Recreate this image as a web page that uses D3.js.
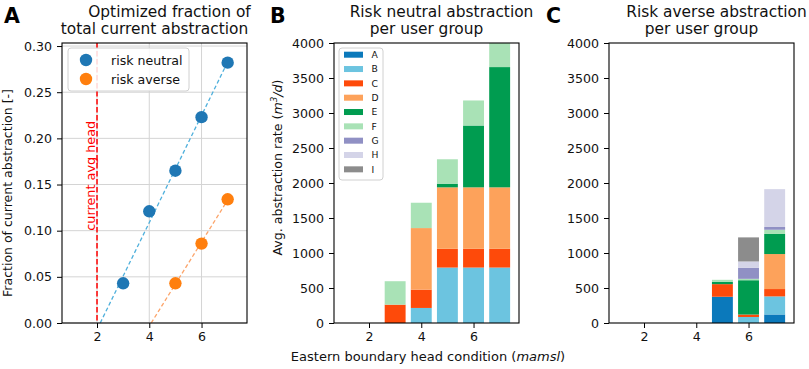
<!DOCTYPE html>
<html>
<head>
<meta charset="utf-8">
<script src="https://cdn.jsdelivr.net/npm/d3@7"></script>
<style>
  body { margin: 0; background: #fff; }
  svg { display: block; font-family: "DejaVu Sans", sans-serif; }
</style>
</head>
<body>
<svg id="chart" width="809" height="369"></svg>
<script>
// --- data ---
var neutralHeads = [3, 4, 5, 6, 7];
var neutralFraction = [0.043, 0.121, 0.165, 0.223, 0.282];
var averseHeads = [5, 6, 7];
var averseFraction = [0.043, 0.086, 0.134];
var currentHead = 2;

var groups = ["A", "B", "C", "D", "E", "F", "G", "H", "I"];
var groupColors = ["#0b79bb", "#6cc4e0", "#fe4a0a", "#fda25b", "#009c50", "#a9e2b6", "#9090c4", "#d4d4e8", "#8c8c8c"];
var barHeads = [2, 3, 4, 5, 6, 7];

// one row per user group, one value per head in barHeads (m3/d)
var neutralRates = [
  [0, 0, 0, 0, 0, 0],
  [0, 0, 215, 792, 792, 792],
  [0, 262, 262, 268, 268, 268],
  [0, 0, 879, 878, 878, 878],
  [0, 0, 0, 52, 883, 1718],
  [0, 335, 362, 349, 358, 355],
  [0, 0, 0, 0, 0, 0],
  [0, 0, 0, 0, 0, 0],
  [0, 0, 0, 0, 0, 0]
];
var averseRates = [
  [0, 0, 0, 375, 0, 122],
  [0, 0, 0, 0, 86, 258],
  [0, 0, 0, 180, 35, 105],
  [0, 0, 0, 0, 0, 500],
  [0, 0, 0, 32, 490, 287],
  [0, 0, 0, 30, 20, 60],
  [0, 0, 0, 0, 158, 40],
  [0, 0, 0, 0, 90, 540],
  [0, 0, 0, 0, 344, 0]
];
var xTicks = [2, 4, 6];
var fracTicks = [0, 0.05, 0.10, 0.15, 0.20, 0.25, 0.30];
var rateTicks = [0, 500, 1000, 1500, 2000, 2500, 3000, 3500, 4000];

// --- layout ---
var plotTop = 43, plotBottom = 323, pw = 185;
var svg = d3.select("#chart");
svg.append("rect").attr("width", 809).attr("height", 369).attr("fill", "#fff");

function makeX(left) {
  return d3.scaleLinear().domain([0.66, 7.74]).range([left, left + pw]);
}

function drawAxes(g, x, y, yTicks, fmt, left) {
  var xa = g.append("g")
    .attr("transform", "translate(0," + plotBottom + ")")
    .call(d3.axisBottom(x).tickValues(xTicks).tickSize(5).tickPadding(4).tickFormat(d3.format("d")));
  var ya = g.append("g")
    .attr("transform", "translate(" + left + ",0)")
    .call(d3.axisLeft(y).tickValues(yTicks).tickSize(5).tickPadding(5).tickFormat(fmt));
  [xa, ya].forEach(function(a) {
    a.select(".domain").remove();
    a.selectAll("text").attr("font-size", "12.6px").attr("fill", "#111")
      .attr("font-family", "DejaVu Sans");
    a.selectAll("line").attr("stroke", "#000").attr("stroke-width", 1);
  });
  g.append("rect")
    .attr("x", left).attr("y", plotTop).attr("width", pw).attr("height", plotBottom - plotTop)
    .attr("fill", "none").attr("stroke", "#000").attr("stroke-width", 1.1);
}

function title(left, l1, l2, letter, letterX) {
  var cx = left + pw / 2;
  svg.append("text").attr("x", cx + 15).attr("y", 16.5).attr("text-anchor", "middle")
    .attr("font-size", "15.4px").attr("fill", "#111").text(l1);
  svg.append("text").attr("x", cx).attr("y", 33.5).attr("text-anchor", "middle")
    .attr("font-size", "15.4px").attr("fill", "#111").text(l2);
  svg.append("text").attr("x", letterX).attr("y", 23)
    .attr("font-size", "20.5px").attr("font-weight", "bold").attr("fill", "#000").text(letter);
}

// --- panel A ---
var leftA = 62;
var xA = makeX(leftA);
var yA = d3.scaleLinear().domain([0, 0.3033]).range([plotBottom, plotTop]);
var gA = svg.append("g");

// grid
gA.selectAll(".gx").data(xTicks).enter().append("line")
  .attr("x1", function(d) { return xA(d); }).attr("x2", function(d) { return xA(d); })
  .attr("y1", plotTop).attr("y2", plotBottom).attr("stroke", "#d4d4d4").attr("stroke-width", 1);
gA.selectAll(".gy").data(fracTicks).enter().append("line")
  .attr("x1", leftA).attr("x2", leftA + pw)
  .attr("y1", function(d) { return yA(d); }).attr("y2", function(d) { return yA(d); })
  .attr("stroke", "#d4d4d4").attr("stroke-width", 1);

// least squares fit line, drawn from the zero crossing to the last point
function fitLine(xs, ys) {
  var mx = d3.mean(xs), my = d3.mean(ys);
  var sxy = d3.sum(xs, function(v, i) { return (v - mx) * (ys[i] - my); });
  var sxx = d3.sum(xs, function(v) { return (v - mx) * (v - mx); });
  var slope = sxy / sxx, icept = my - slope * mx;
  var x0 = -icept / slope, x1 = d3.max(xs);
  return [[x0, 0], [x1, icept + slope * x1]];
}
var line = d3.line().x(function(d) { return xA(d[0]); }).y(function(d) { return yA(d[1]); });

gA.append("line")
  .attr("x1", xA(currentHead)).attr("x2", xA(currentHead))
  .attr("y1", plotTop).attr("y2", plotBottom)
  .attr("stroke", "#ff0000").attr("stroke-width", 1.5).attr("stroke-dasharray", "5.5,2.5");
gA.append("text")
  .attr("transform", "translate(" + (xA(currentHead) - 2) + "," + yA(0.10) + ") rotate(-90)")
  .attr("font-size", "12.8px").attr("fill", "#ff0000").text("current avg head");

gA.append("path").datum(fitLine(neutralHeads, neutralFraction)).attr("d", line)
  .attr("fill", "none").attr("stroke", "#4fb0dc").attr("stroke-width", 1.3).attr("stroke-dasharray", "4,2.5");
gA.append("path").datum(fitLine(averseHeads, averseFraction)).attr("d", line)
  .attr("fill", "none").attr("stroke", "#fca46a").attr("stroke-width", 1.3).attr("stroke-dasharray", "4,2.5");

gA.selectAll(".pn").data(neutralHeads).enter().append("circle")
  .attr("cx", function(d) { return xA(d); })
  .attr("cy", function(d, i) { return yA(neutralFraction[i]); })
  .attr("r", 6.2).attr("fill", "#1f77b4");
gA.selectAll(".pa").data(averseHeads).enter().append("circle")
  .attr("cx", function(d) { return xA(d); })
  .attr("cy", function(d, i) { return yA(averseFraction[i]); })
  .attr("r", 6.2).attr("fill", "#ff7f0e");

drawAxes(gA, xA, yA, fracTicks, d3.format(".2f"), leftA);

// legend A
var legA = gA.append("g");
legA.append("rect").attr("x", 68).attr("y", 48).attr("width", 121).attr("height", 43).attr("rx", 3)
  .attr("fill", "#fff").attr("fill-opacity", 0.85).attr("stroke", "#d0d0d0");
[["risk neutral", "#1f77b4"], ["risk averse", "#ff7f0e"]].forEach(function(e, i) {
  var cy = 60 + i * 19;
  legA.append("circle").attr("cx", 86).attr("cy", cy).attr("r", 6.2).attr("fill", e[1]);
  legA.append("text").attr("x", 111).attr("y", cy + 4.5).attr("font-size", "12.6px").attr("fill", "#111").text(e[0]);
});

svg.append("text")
  .attr("transform", "translate(12,193) rotate(-90)").attr("text-anchor", "middle")
  .attr("font-size", "12.5px").attr("fill", "#111").text("Fraction of current abstraction [-]");
title(leftA, "Optimized fraction of", "total current abstraction", "A", 4);

// --- stacked bar panels ---
function barPanel(left, rates, id) {
  var x = makeX(left);
  var y = d3.scaleLinear().domain([0, 4000]).range([plotBottom, plotTop]);
  var g = svg.append("g");
  g.append("clipPath").attr("id", id).append("rect")
    .attr("x", left).attr("y", plotTop).attr("width", pw).attr("height", plotBottom - plotTop);
  var rows = barHeads.map(function(h, j) {
    var r = { head: h };
    groups.forEach(function(gr, k) { r[gr] = rates[k][j]; });
    return r;
  });
  var series = d3.stack().keys(groups)(rows);
  var bw = x(0.8) - x(0);
  g.append("g").attr("clip-path", "url(#" + id + ")")
    .selectAll("g").data(series).enter().append("g")
    .attr("fill", function(d, i) { return groupColors[i]; })
    .selectAll("rect").data(function(d) { return d; }).enter().append("rect")
    .attr("x", function(d) { return x(d.data.head) - bw / 2; })
    .attr("width", bw)
    .attr("y", function(d) { return y(d[1]); })
    .attr("height", function(d) { return y(d[0]) - y(d[1]); });
  drawAxes(g, x, y, rateTicks, d3.format("d"), left);
  return g;
}

var leftB = 334, leftC = 609;
var gB = barPanel(leftB, neutralRates, "clipB");
barPanel(leftC, averseRates, "clipC");

// legend B
var legB = gB.append("g");
legB.append("rect").attr("x", 339).attr("y", 48).attr("width", 44).attr("height", 132).attr("rx", 3)
  .attr("fill", "#fff").attr("fill-opacity", 0.85).attr("stroke", "#d0d0d0");
groups.forEach(function(gr, i) {
  var cy = 54.7 + i * 14.33;
  legB.append("rect").attr("x", 344).attr("y", cy - 3).attr("width", 19).attr("height", 6).attr("fill", groupColors[i]);
  legB.append("text").attr("x", 371.5).attr("y", cy + 3.3).attr("font-size", "9.2px").attr("fill", "#111").text(gr);
});

var yl = svg.append("text")
  .attr("transform", "translate(282,167.5) rotate(-90)").attr("text-anchor", "middle")
  .attr("font-size", "12.6px").attr("fill", "#111");
yl.append("tspan").text("Avg. abstraction rate (");
yl.append("tspan").attr("font-style", "italic").text("m");
yl.append("tspan").attr("font-style", "italic").attr("font-size", "8.8px").attr("dy", -5).text("3");
yl.append("tspan").attr("font-style", "italic").attr("dy", 5).text("/d");
yl.append("tspan").text(")");

var xl = svg.append("text").attr("x", 428).attr("y", 361).attr("text-anchor", "middle")
  .attr("font-size", "13px").attr("fill", "#111");
xl.append("tspan").text("Eastern boundary head condition (");
xl.append("tspan").attr("font-style", "italic").text("mamsl");
xl.append("tspan").text(")");

title(leftB, "Risk neutral abstraction", "per user group", "B", 270);
title(leftC, "Risk averse abstraction", "per user group", "C", 546);
</script>
</body>
</html>
